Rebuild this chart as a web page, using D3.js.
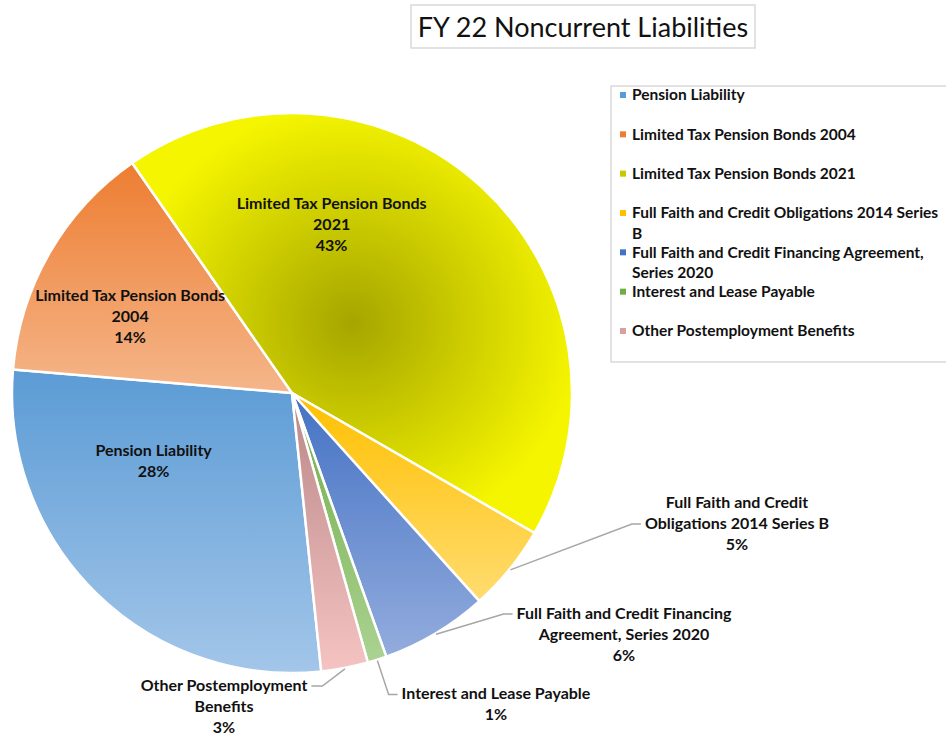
<!DOCTYPE html>
<html>
<head>
<meta charset="utf-8">
<script src="https://cdn.jsdelivr.net/npm/d3@7"></script>
<style>
  body { margin: 0; background: #fff; }
  svg { display: block; font-family: Lato, "Open Sans", sans-serif; }
</style>
</head>
<body>
<div id="chart"></div>
<script>
// Data
const categories = [
  "Pension Liability",
  "Limited Tax Pension Bonds 2004",
  "Limited Tax Pension Bonds 2021",
  "Full Faith and Credit Obligations 2014 Series B",
  "Full Faith and Credit Financing Agreement, Series 2020",
  "Interest and Lease Payable",
  "Other Postemployment Benefits"
];
const values = [28, 14, 43, 5, 6.2, 1.1, 2.7];
const percentLabels = ["28%", "14%", "43%", "5%", "6%", "1%", "3%"];
const labelLines = [
  ["Pension Liability"],
  ["Limited Tax Pension Bonds", "2004"],
  ["Limited Tax Pension Bonds", "2021"],
  ["Full Faith and Credit", "Obligations 2014 Series B"],
  ["Full Faith and Credit Financing", "Agreement, Series 2020"],
  ["Interest and Lease Payable"],
  ["Other Postemployment", "Benefits"]
];
const legendLines = [
  ["Pension Liability"],
  ["Limited Tax Pension Bonds 2004"],
  ["Limited Tax Pension Bonds 2021"],
  ["Full Faith and Credit Obligations 2014 Series", "B"],
  ["Full Faith and Credit Financing Agreement,", "Series 2020"],
  ["Interest and Lease Payable"],
  ["Other Postemployment Benefits"]
];

// Gradient colours (top -> bottom, or centre -> edge for the radial one)
const gradTop = ["#5b9bd5", "#ed7d31", "#a5a500", "#ffc000", "#4472c4", "#70ad47", "#b98787"];
const gradBottom = ["#a3c6e9", "#f5b68a", "#f5f500", "#ffdc70", "#93acdd", "#abd292", "#f6c3c3"];
const legendColors = ["#5b9bd5", "#ed7d31", "#c8c800", "#ffc000", "#4472c4", "#70ad47", "#d9a0a0"];

const width = 946;
const height = 735;
const cx = 292, cy = 393, radius = 280;

const svg = d3.select("#chart")
  .append("svg")
  .attr("width", width)
  .attr("height", height);

const defs = svg.append("defs");
categories.forEach((c, i) => {
  let g;
  if (i === 2) {
    g = defs.append("radialGradient")
      .attr("id", "grad" + i)
      .attr("cx", 0.5).attr("cy", 0.5).attr("r", 0.52);
  } else {
    g = defs.append("linearGradient")
      .attr("id", "grad" + i)
      .attr("x1", 0).attr("y1", 0).attr("x2", 0).attr("y2", 1);
  }
  g.append("stop").attr("offset", "0%").attr("stop-color", gradTop[i]);
  g.append("stop").attr("offset", "100%").attr("stop-color", gradBottom[i]);
});

// Title
const title = svg.append("g");
title.append("rect")
  .attr("x", 411).attr("y", 5)
  .attr("width", 344).attr("height", 43)
  .attr("fill", "#fff")
  .attr("stroke", "#d9d9d9")
  .attr("stroke-width", 1.5);
title.append("text")
  .attr("x", 583).attr("y", 37)
  .attr("text-anchor", "middle")
  .attr("font-size", 27)
  .attr("fill", "#111")
  .text("FY 22 Noncurrent Liabilities");

// Pie
const startDeg = 174;
const pie = d3.pie()
  .sort(null)
  .startAngle(startDeg * Math.PI / 180)
  .endAngle((startDeg + 360) * Math.PI / 180);

const arcs = pie(values);
const arc = d3.arc().innerRadius(0).outerRadius(radius);

const chart = svg.append("g")
  .attr("transform", `translate(${cx}, ${cy})`);

chart.selectAll(".slice")
  .data(arcs)
  .enter()
  .append("path")
  .attr("class", "slice")
  .attr("d", arc)
  .attr("fill", (d, i) => `url(#grad${i})`)
  .attr("stroke", "#fff")
  .attr("stroke-width", 2.5)
  .attr("stroke-linejoin", "round");

// Label placement: inside labels by polar position, outside ones by text block centre
const lineH = 21;
const inside = {
  0: { angle: 244, r: 0.55 },
  1: { angle: 295.4, r: 0.64 },
  2: { angle: 13.2, r: 0.62 }
};
const outside = {
  3: { x: 445, y: 130, side: "left", line: 1 },
  4: { x: 332, y: 241, side: "left", line: 0 },
  5: { x: 204, y: 311, side: "left", line: 0 },
  6: { x: -68, y: 313, side: "right", line: 0 }
};

const labels = chart.append("g")
  .attr("font-weight", "bold")
  .attr("font-size", 16)
  .attr("fill", "#111")
  .attr("text-anchor", "middle");

arcs.forEach((d, i) => {
  const lines = labelLines[i].concat([percentLabels[i]]);
  let px, py;
  if (inside[i]) {
    const a = inside[i].angle * Math.PI / 180;
    const r = inside[i].r * radius;
    px = Math.sin(a) * r;
    py = -Math.cos(a) * r;
  } else {
    px = outside[i].x;
    py = outside[i].y;
  }
  const top = py - (lines.length - 1) * lineH / 2;
  const t = labels.append("text");
  lines.forEach((ln, k) => {
    t.append("tspan")
      .attr("x", px)
      .attr("y", top + k * lineH)
      .attr("dy", "0.35em")
      .text(ln);
  });

  if (outside[i]) {
    const o = outside[i];
    const spans = t.selectAll("tspan").nodes();
    const w = spans[o.line].getComputedTextLength();
    const ly = top + o.line * lineH + 1;
    const mid = (d.startAngle + d.endAngle) / 2;
    const sx = Math.sin(mid) * (radius + 1);
    const sy = -Math.cos(mid) * (radius + 1);
    let ex, elx;
    if (o.side === "left") {
      ex = px - w / 2 - 4;
      elx = ex - 9;
    } else {
      ex = px + w / 2 + 4;
      elx = ex + 11;
    }
    chart.append("polyline")
      .attr("points", [[sx, sy], [elx, ly], [ex, ly]].map(p => p.join(",")).join(" "))
      .attr("fill", "none")
      .attr("stroke", "#a6a6a6")
      .attr("stroke-width", 1.5);
  }
});

// Legend
const legend = svg.append("g");
legend.append("rect")
  .attr("x", 611).attr("y", 86)
  .attr("width", 345).attr("height", 276)
  .attr("fill", "#fff")
  .attr("stroke", "#d9d9d9")
  .attr("stroke-width", 1.5);

const legendY = d3.scalePoint()
  .domain(categories)
  .range([95, 331]);

categories.forEach((c, i) => {
  const y = legendY(c);
  legend.append("rect")
    .attr("x", 620).attr("y", y - 3)
    .attr("width", 6).attr("height", 6)
    .attr("fill", legendColors[i]);
  const t = legend.append("text")
    .attr("font-weight", "bold")
    .attr("font-size", 15.5)
    .attr("fill", "#111");
  legendLines[i].forEach((ln, k) => {
    t.append("tspan")
      .attr("x", 632)
      .attr("y", y + k * 20.5)
      .attr("dy", "0.35em")
      .text(ln);
  });
});
</script>
</body>
</html>
